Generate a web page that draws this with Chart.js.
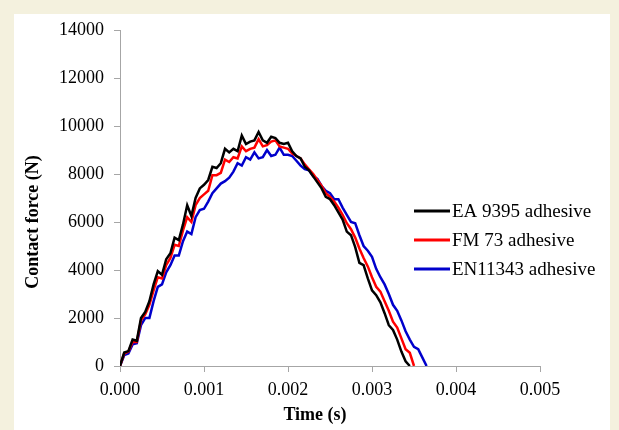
<!DOCTYPE html>
<html>
<head>
<meta charset="utf-8">
<script src="https://cdn.jsdelivr.net/npm/chart.js@4.4.0/dist/chart.umd.min.js"></script>
<style>
html,body{margin:0;padding:0;background:#f4f1de;}
#wrap{position:absolute;left:0;top:0;width:619px;height:430px;}
</style>
</head>
<body>
<div id="wrap"><canvas id="c" width="619" height="430"></canvas></div>
<script>
// Time grid (s), step 0.00005
const timeS = [];
for (let k = 0; k <= 73; k++) timeS.push(+(k * 0.00005).toFixed(5));

const seriesNames = ["EA 9395 adhesive", "FM 73 adhesive", "EN11343 adhesive"];
const seriesColors = ["#000000", "#ff0000", "#0000cc"];

const ea9395 = [0,560,620,1100,1050,2000,2250,2700,3400,3950,3800,4450,4700,5350,5250,5900,6700,6250,7000,7400,
  7550,7750,8300,8250,8450,9050,8900,9050,8950,9600,9250,9350,9400,9750,9400,9300,9550,9500,9300,9250,
  9300,8950,8750,8650,8300,8150,7900,7650,7400,7050,6950,6700,6400,6100,5600,5450,4950,4300,4200,3650,
  3150,2950,2650,2200,1700,1500,1100,600,200,0];
const fm73 = [0,520,600,1000,1000,1900,2150,2550,3150,3700,3650,4200,4500,5050,5000,5650,6200,6000,6700,7000,
  7150,7300,7950,7950,8050,8600,8500,8700,8650,9150,8950,9050,9100,9450,9150,9200,9350,9400,9150,9100,
  9050,8850,8750,8650,8400,8200,8000,7750,7500,7200,7050,6850,6600,6300,5950,5700,5350,4900,4500,4150,
  3700,3300,3100,2700,2300,1850,1600,1150,700,550,0];
const en11343 = [0,450,520,900,950,1700,2000,2000,2700,3300,3400,3900,4200,4600,4600,5200,5600,5500,6200,6500,
  6550,6850,7200,7400,7600,7700,7850,8100,8450,8350,8700,8600,8900,8650,8700,9000,8750,8800,9100,8800,
  8800,8750,8550,8350,8200,8150,7900,7800,7500,7300,7200,6950,6950,6600,6300,6000,5950,5450,5000,4800,
  4550,4050,3700,3400,3000,2550,2300,1900,1450,1100,800,700,350,0];

const xTicks = [0, 0.001, 0.002, 0.003, 0.004, 0.005];
const yTicks = [0, 2000, 4000, 6000, 8000, 10000, 12000, 14000];
const xTitle = "Time (s)";
const yTitle = "Contact force (N)";

function pts(vals){ return vals.map((v,i)=>({x: timeS[i], y: v})); }

const FONT = "'Liberation Serif', serif";

const deco = {
  id: 'deco',
  beforeDraw(chart){
    const ctx = chart.ctx;
    ctx.save();
    ctx.fillStyle = '#f4f1de';
    ctx.fillRect(0,0,chart.width,chart.height);
    ctx.fillStyle = '#ffffff';
    ctx.fillRect(14,14,596,416);
    ctx.restore();
  },
  afterDraw(chart){
    const ctx = chart.ctx;
    ctx.save();
    ctx.fillStyle = '#000';
    ctx.font = "bold 18px " + FONT;
    ctx.textAlign = 'center';
    ctx.textBaseline = 'middle';
    ctx.fillText(xTitle, 315, 415);
    ctx.translate(33, 222);
    ctx.rotate(-Math.PI/2);
    ctx.fillText(yTitle, 0, 0);
    ctx.restore();
    // legend
    ctx.save();
    ctx.textAlign = 'left';
    ctx.textBaseline = 'middle';
    chart.data.datasets.forEach((ds, i) => {
      const y = 211 + 29 * i;
      ctx.strokeStyle = ds.borderColor;
      ctx.lineWidth = 3;
      ctx.beginPath();
      ctx.moveTo(414, y);
      ctx.lineTo(450, y);
      ctx.stroke();
      ctx.fillStyle = '#000';
      ctx.font = "normal 19px " + FONT;
      ctx.fillText(ds.label, 452, y + 1);
    });
    ctx.restore();
  }
};

const datasets = [
  {label: seriesNames[2], data: pts(en11343), borderColor: seriesColors[2], order: 3},
  {label: seriesNames[1], data: pts(fm73), borderColor: seriesColors[1], order: 2},
  {label: seriesNames[0], data: pts(ea9395), borderColor: seriesColors[0], order: 1}
].map(d => Object.assign(d, {borderWidth: 2.5, pointRadius: 0, tension: 0, fill: false}));
const legendOrdered = [datasets[2], datasets[1], datasets[0]];

new Chart(document.getElementById('c'), {
  type: 'line',
  data: {datasets: legendOrdered},
  options: {
    responsive: false,
    animation: false,
    devicePixelRatio: 1,
    layout: {padding: {left: 0, top: 30, right: 79, bottom: 0}},
    plugins: {legend: {display: false}, tooltip: {enabled: false}},
    scales: {
      x: {
        type: 'linear', min: 0, max: 0.005,
        afterBuildTicks(scale){ scale.ticks = xTicks.map(v => ({value: v})); },
        afterFit(scale){ scale.height = 64; },
        grid: {drawOnChartArea: false, drawTicks: true, tickLength: 6, color: '#a6a6a6'},
        border: {color: '#a6a6a6', width: 1},
        ticks: {color: '#000', font: {family: FONT, size: 18}, padding: 7, maxRotation: 0,
          callback: v => Number(v).toFixed(3)}
      },
      y: {
        type: 'linear', min: 0, max: 14000,
        afterBuildTicks(scale){ scale.ticks = yTicks.map(v => ({value: v})); },
        afterFit(scale){ scale.width = 120; },
        grid: {drawOnChartArea: false, drawTicks: true, tickLength: 6, color: '#a6a6a6'},
        border: {color: '#a6a6a6', width: 1},
        ticks: {color: '#000', font: {family: FONT, size: 18}, padding: 10,
          callback: v => String(v)}
      }
    }
  },
  plugins: [deco]
});
</script>
</body>
</html>
